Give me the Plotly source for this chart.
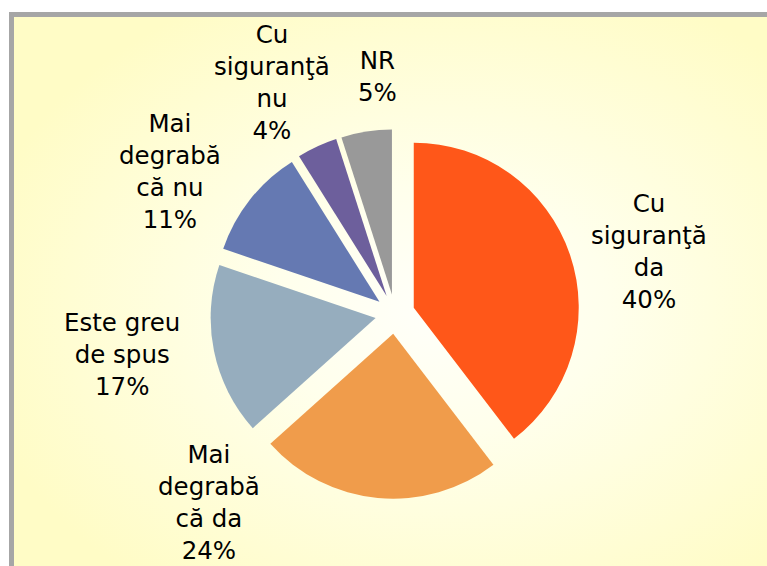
import plotly.graph_objects as go
import base64

# ---- data ----
categories = ["Cu<br>siguranţă<br>da", "Mai<br>degrabă<br>că da", "Este greu<br>de spus",
              "Mai<br>degrabă<br>că nu", "Cu<br>siguranţă<br>nu", "NR"]
values = [40, 24, 17, 11, 4, 5]
colors = ["#FF5719", "#F09C4B", "#96ADBE", "#6579B2", "#6D5F9C", "#999999"]
# label centres in page pixels (text placement only)
label_px = [(649, 251), (209, 502), (122, 354), (170, 172), (272, 83), (377, 77)]

W, H = 767, 566
FONT = "DejaVu Sans, Liberation Sans, Arial, sans-serif"

svg = f'''<svg xmlns="http://www.w3.org/2000/svg" width="{W}" height="{H}" viewBox="0 0 {W} {H}" preserveAspectRatio="none">
<defs><radialGradient id="g" cx="0.56" cy="0.52" r="0.62">
<stop offset="0" stop-color="#FFFFFA"/><stop offset="0.35" stop-color="#FFFFEC"/><stop offset="1" stop-color="#FFFCC6"/>
</radialGradient></defs>
<rect x="0" y="0" width="{W}" height="{H}" fill="url(#g)"/></svg>'''
bg_uri = "data:image/svg+xml;base64," + base64.b64encode(svg.encode()).decode()

fig = go.Figure(go.Pie(
    labels=categories,
    values=values,
    sort=False,
    direction="clockwise",
    rotation=0,
    pull=[0.12] * len(values),
    marker=dict(colors=colors, line=dict(width=0)),
    textinfo="none",
    domain=dict(x=[0.2741, 0.7559], y=[0.1187, 0.7717]),
    showlegend=False,
    hoverinfo="label+value",
))

annotations = []
for lab, v, (px, py) in zip(categories, values, label_px):
    annotations.append(dict(
        text=f"{lab}<br>{v}%", x=px / W, y=1 - py / H, xref="paper", yref="paper",
        xanchor="center", yanchor="middle", showarrow=False, align="center",
        font=dict(family=FONT, size=24.5, color="#000000")))

fig.update_layout(
    width=W, height=H,
    margin=dict(l=0, r=0, t=0, b=0, autoexpand=False),
    paper_bgcolor="#FFFFFF",
    plot_bgcolor="#FFFFFF",
    annotations=annotations,
    images=[dict(source=bg_uri, xref="paper", yref="paper", x=11.5 / W, y=1 - 14.5 / H,
                 sizex=1, sizey=1, xanchor="left", yanchor="top", sizing="stretch", layer="below")],
    shapes=[dict(type="rect", xref="paper", yref="paper",
                 x0=11.5 / W, x1=1.05, y0=-0.05, y1=1 - 14.5 / H,
                 line=dict(color="#A6A6A6", width=5), fillcolor="rgba(0,0,0,0)", layer="above")],
)

fig.write_html("out.html", config={"displayModeBar": False},
               post_script="document.body.style.margin='0px';document.body.style.overflow='hidden';")
